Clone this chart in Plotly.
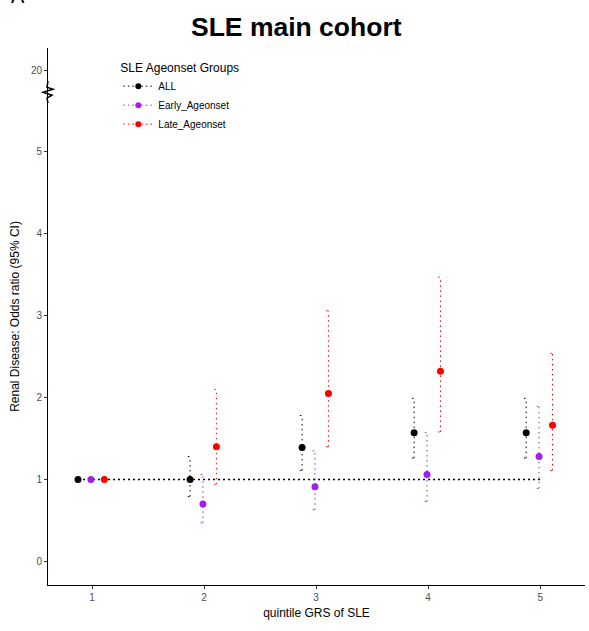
import plotly.graph_objects as go

# ---- data ----
quintiles = [1, 2, 3, 4, 5]
groups = ["ALL", "Early_Ageonset", "Late_Ageonset"]
colors = {"ALL": "#000000", "Early_Ageonset": "#A020F0", "Late_Ageonset": "#FF0000"}
dodge = {"ALL": -0.125, "Early_Ageonset": -0.01, "Late_Ageonset": 0.11}

or_all = [1.00, 1.00, 1.39, 1.57, 1.57]
lo_all = [1.00, 0.79, 1.11, 1.26, 1.26]
hi_all = [1.00, 1.28, 1.78, 1.99, 1.99]

or_early = [1.00, 0.70, 0.91, 1.06, 1.28]
lo_early = [1.00, 0.47, 0.63, 0.73, 0.89]
hi_early = [1.00, 1.06, 1.35, 1.57, 1.89]

or_late = [1.00, 1.40, 2.05, 2.32, 1.66]
lo_late = [1.00, 0.94, 1.40, 1.58, 1.11]
hi_late = [1.00, 2.10, 3.06, 3.47, 2.54]

values = {
    "ALL": (or_all, lo_all, hi_all),
    "Early_Ageonset": (or_early, lo_early, hi_early),
    "Late_Ageonset": (or_late, lo_late, hi_late),
}

y_tick_labels = [0, 1, 2, 3, 4, 5, 20]
ref_value = 1
ref_x_start = 1 + dodge["ALL"]
ref_x_end = 5


def y_break(v):
    # broken axis: values above 5 are compressed, 20 sits one unit above 5
    return v if v <= 5 else 6


fig = go.Figure()

# reference line at OR = 1
fig.add_trace(go.Scatter(
    x=[ref_x_start, ref_x_end], y=[ref_value, ref_value], mode="lines",
    line=dict(color="black", dash="2px,3px", width=1.5), showlegend=False, hoverinfo="skip"))

cap = 0.02
for g in groups:
    est, lo, hi = values[g]
    xs, ys = [], []
    for q, l, h in zip(quintiles, lo, hi):
        x = q + dodge[g]
        if l == h:
            continue
        xs += [x, x, None, x - cap, x + cap, None, x - cap, x + cap, None]
        ys += [l, h, None, l, l, None, h, h, None]
    fig.add_trace(go.Scatter(
        x=xs, y=ys, mode="lines", line=dict(color=colors[g], dash="1.5px,3.5px", width=1),
        showlegend=False, legendgroup=g, hoverinfo="skip"))
    fig.add_trace(go.Scatter(
        x=[q + dodge[g] for q in quintiles], y=est, mode="markers",
        marker=dict(color=colors[g], size=7), showlegend=False, legendgroup=g))
    fig.add_trace(go.Scatter(
        x=[None], y=[None], mode="lines+markers", name=g, legendgroup=g,
        line=dict(color=colors[g], dash="1.5px,3px", width=1),
        marker=dict(color=colors[g], size=6)))

# axis break symbol
fig.add_shape(type="path", xref="x domain", yref="y",
              xsizemode="pixel", ysizemode="pixel", xanchor=0, yanchor=5.73,
              path="M 0 11 L -1 5 L 5 3 L -5 0 L 4 -3 L -1 -6 L 0 -11",
              line=dict(color="black", width=1.5))

fig.update_layout(
    width=589, height=631,
    margin=dict(l=48, r=4, t=48, b=46, autoexpand=False),
    paper_bgcolor="white", plot_bgcolor="white",
    font=dict(family="Liberation Sans, Arial, sans-serif", color="black"),
    title=dict(text="<b>SLE main cohort</b>", x=0.503, xanchor="center",
               y=0.958, yanchor="middle", font=dict(size=26.5, color="black")),
    showlegend=True,
    legend=dict(title=dict(text="SLE Ageonset Groups", font=dict(size=12)),
                font=dict(size=10), x=0.131, y=0.985, xanchor="left", yanchor="top",
                bgcolor="rgba(0,0,0,0)", itemwidth=30, tracegroupgap=0),
    xaxis=dict(range=[0.607, 5.40], tickvals=quintiles,
               ticktext=[str(q) for q in quintiles], automargin=False,
               showgrid=False, zeroline=False, showline=True, linecolor="black", linewidth=1,
               ticks="outside", ticklen=3, tickcolor="#333333",
               tickfont=dict(size=10, color="#4d4d4d"),
               title=dict(text="quintile GRS of SLE", font=dict(size=12), standoff=6)),
    yaxis=dict(range=[-0.29, 6.27], tickvals=[y_break(v) for v in y_tick_labels],
               ticktext=[str(v) for v in y_tick_labels], automargin=False,
               showgrid=False, zeroline=False, showline=True, linecolor="black", linewidth=1,
               ticks="outside", ticklen=3, tickcolor="#333333",
               tickfont=dict(size=10, color="#4d4d4d"),
               title=dict(text="Renal Disease: Odds ratio (95% CI)", font=dict(size=12), standoff=8)),
    annotations=[dict(text="A", xref="paper", yref="paper", x=-0.072, y=1.072,
                      xanchor="left", yanchor="bottom", showarrow=False,
                      font=dict(size=20, color="black"))],
)

fig.write_html("out.html", config={"displayModeBar": False},
               post_script="document.body.style.margin='0';")
